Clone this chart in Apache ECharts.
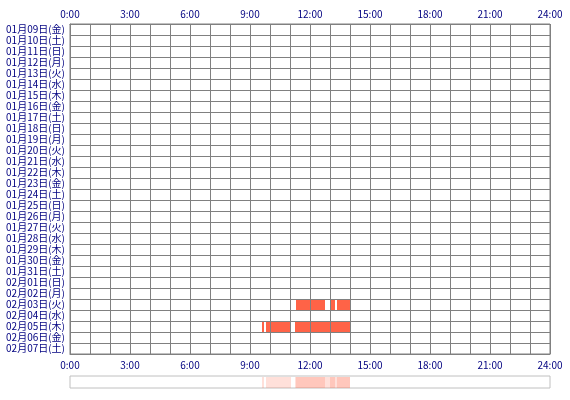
<!DOCTYPE html>
<html>
<head>
<meta charset="utf-8">
<script src="https://cdn.jsdelivr.net/npm/echarts@6/dist/echarts.min.js"></script>
<style>
  body { margin: 0; background: #fff; }
  #chart { width: 570px; height: 400px; }
</style>
</head>
<body>
<div id="chart"></div>
<script>
// 日付（行）
const days = [
  '01月09日(金)', '01月10日(土)', '01月11日(日)', '01月12日(月)', '01月13日(火)',
  '01月14日(水)', '01月15日(木)', '01月16日(金)', '01月17日(土)', '01月18日(日)',
  '01月19日(月)', '01月20日(火)', '01月21日(水)', '01月22日(木)', '01月23日(金)',
  '01月24日(土)', '01月25日(日)', '01月26日(月)', '01月27日(火)', '01月28日(水)',
  '01月29日(木)', '01月30日(金)', '01月31日(土)', '02月01日(日)', '02月02日(月)',
  '02月03日(火)', '02月04日(水)', '02月05日(木)', '02月06日(金)', '02月07日(土)'
];

// 稼働区間（時間、小数）
const segDays   = ['02月03日(火)', '02月03日(火)', '02月03日(火)', '02月05日(木)', '02月05日(木)', '02月05日(木)'];
const segStarts = [11.3, 13.0, 13.35, 9.6, 9.8, 11.25];
const segEnds   = [12.75, 13.25, 14.0, 9.7, 11.05, 14.0];

const hourTicks = [0, 3, 6, 9, 12, 15, 18, 21, 24];

const segData = segDays.map((d, i) => [days.indexOf(d), segStarts[i], segEnds[i]]);

const labelColor = '#000080';
const lineColor = '#808080';
const font = '"Noto Sans CJK JP", sans-serif';

function hourLabel(v) {
  return hourTicks.indexOf(v) >= 0 ? v + ':00' : '';
}

const chart = echarts.init(document.getElementById('chart'));

const xBase = {
  type: 'value', min: 0, max: 24, interval: 1, gridIndex: 0, z: 5,
  axisLine: { show: true, lineStyle: { color: lineColor, width: 1 } },
  axisTick: { show: false },
  splitLine: { show: true, lineStyle: { color: lineColor, width: 1 } },
  axisLabel: {
    formatter: hourLabel, color: labelColor, fontSize: 10, fontFamily: font,
    margin: 5, showMinLabel: true, showMaxLabel: true
  }
};

const option = {
  animation: false,
  grid: [
    { left: 70, right: 20, top: 24, bottom: 46, show: true, borderColor: lineColor, borderWidth: 1, backgroundColor: 'transparent' },
    { left: 70, right: 20, top: 376, height: 12, show: true, borderColor: '#c0c0c0', borderWidth: 1, backgroundColor: '#fff' }
  ],
  xAxis: [
    Object.assign({}, xBase, { position: 'top' }),
    Object.assign({}, xBase, { position: 'bottom', axisLabel: Object.assign({}, xBase.axisLabel, { margin: 6 }) }),
    { type: 'value', min: 0, max: 24, gridIndex: 1, show: false }
  ],
  yAxis: [
    {
      type: 'category', data: days, inverse: true, gridIndex: 0, z: 5,
      axisLine: { show: true, lineStyle: { color: lineColor, width: 1 } },
      axisTick: { show: false },
      splitLine: { show: true, interval: 0, lineStyle: { color: lineColor, width: 1 } },
      axisLabel: { interval: 0, color: labelColor, fontSize: 10, fontFamily: font, margin: 5 }
    },
    { type: 'value', min: 0, max: 1, gridIndex: 1, show: false }
  ],
  series: [
    {
      type: 'custom',
      xAxisIndex: 0, yAxisIndex: 0,
      encode: { x: [1, 2], y: 0 },
      data: segData,
      renderItem: function (params, api) {
        const start = api.coord([api.value(1), api.value(0)]);
        const end = api.coord([api.value(2), api.value(0)]);
        const h = api.size([0, 1])[1];
        return {
          type: 'rect',
          shape: { x: start[0], y: start[1] - h / 2 + 1, width: end[0] - start[0], height: h - 1 },
          style: { fill: '#ff6347' }
        };
      }
    },
    {
      type: 'custom',
      xAxisIndex: 2, yAxisIndex: 1,
      encode: { x: [1, 2] },
      data: segData,
      renderItem: function (params, api) {
        const a = api.coord([api.value(1), 1]);
        const b = api.coord([api.value(2), 0]);
        return {
          type: 'rect',
          shape: { x: a[0], y: a[1] + 1, width: b[0] - a[0], height: b[1] - a[1] - 1 },
          style: { fill: 'rgba(255, 99, 71, 0.2)' }
        };
      }
    }
  ]
};

chart.setOption(option);
</script>
</body>
</html>
